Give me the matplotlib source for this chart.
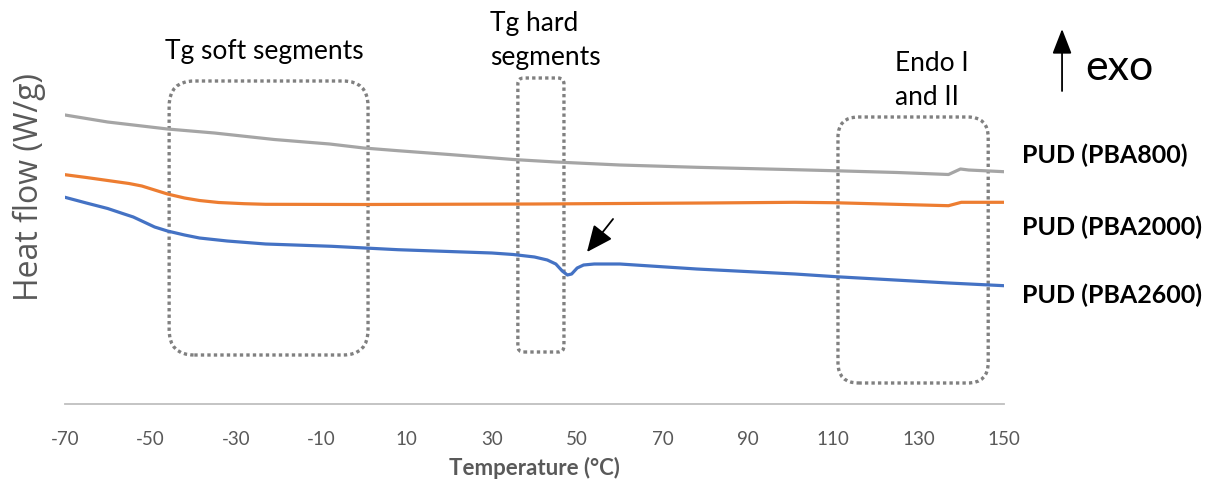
import matplotlib
matplotlib.use("Agg")
import matplotlib.pyplot as plt
from matplotlib.patches import FancyBboxPatch

plt.rcParams['font.family'] = ['Lato', 'DejaVu Sans']
plt.rcParams['axes.unicode_minus'] = False

# DSC curves (heat flow, arbitrary units)
t_800 = [-70, -60, -46, -35, -21, -8, 0, 8, 20, 35, 45, 60, 78, 101, 110, 125, 137, 139.8, 141.7, 150]
hf_800 = [2.89, 2.82, 2.75, 2.71, 2.645, 2.60, 2.56, 2.533, 2.495, 2.445, 2.42, 2.39, 2.367, 2.343,
          2.333, 2.315, 2.295, 2.35, 2.34, 2.323]

t_2000 = [-70, -65, -60, -55, -52, -49, -46, -42, -38.5, -34, -28, -23, 0, 40, 80, 101, 110, 137, 140, 150]
hf_2000 = [2.293, 2.265, 2.235, 2.205, 2.18, 2.14, 2.10, 2.06, 2.035, 2.015, 2.003, 1.997, 1.995, 2.0,
           2.01, 2.017, 2.013, 1.983, 2.017, 2.017]

t_2600 = [-70, -65, -60, -56.5, -54, -52, -49, -46, -42, -38.5, -32, -23, -7.5, 8, 20, 30, 35, 40, 43,
          45, 46.5, 47.7, 48.7, 50, 51.5, 54, 60, 78, 101, 110.6, 137, 150]
hf_2600 = [2.067, 2.01, 1.955, 1.905, 1.87, 1.83, 1.77, 1.73, 1.69, 1.66, 1.63, 1.60, 1.577, 1.543,
           1.525, 1.51, 1.495, 1.47, 1.44, 1.40, 1.33, 1.29, 1.30, 1.36, 1.39, 1.40, 1.40, 1.35, 1.30,
           1.273, 1.21, 1.183]

series_names = ['PUD (PBA800)', 'PUD (PBA2000)', 'PUD (PBA2600)']
xticks = list(range(-70, 151, 20))

# dotted boxes: (x0, x1, y0, y1, corner radius in x units)
boxes = [(-45.6, 1.0, 0.49, 3.23, 5.9),
         (36.1, 46.9, 0.52, 3.26, 1.4),
         (111.1, 146.3, 0.21, 2.87, 4.8)]

fig = plt.figure(figsize=(12.19, 4.89), dpi=100)
ax = fig.add_axes([65 / 1219, 84 / 489, 939 / 1219, 345 / 489])

ax.plot(t_800, hf_800, color='#A5A5A5', lw=2.3, solid_joinstyle='round')
ax.plot(t_2000, hf_2000, color='#ED7D31', lw=2.3, solid_joinstyle='round')
ax.plot(t_2600, hf_2600, color='#4472C4', lw=2.3, solid_joinstyle='round')

ax.set_xlim(-70, 150)
ax.set_ylim(0, 3.45)
ax.set_xticks(xticks)
ax.set_yticks([])
ax.tick_params(axis='x', length=0, pad=19, labelsize=13.5, labelcolor='#595959')
for s in ['top', 'right', 'left']:
    ax.spines[s].set_visible(False)
ax.spines['bottom'].set_color('#BFBFBF')
ax.spines['bottom'].set_linewidth(1.3)
ax.set_xlabel('Temperature (°C)', fontsize=16, fontweight='bold', color='#595959', labelpad=6)
fig.text(29 / 1219, 1 - 187 / 489, 'Heat flow (W/g)', rotation=90, fontsize=23,
         color='#595959', ha='center', va='center', family=['Open Sans', 'DejaVu Sans'])

aspect = 4.268 / 100
for x0, x1, y0, y1, r in boxes:
    p = FancyBboxPatch((x0, y0), x1 - x0, y1 - y0,
                       boxstyle=f"round,pad=0,rounding_size={r}", mutation_aspect=aspect,
                       fill=False, ec='#808080', lw=2.4, ls=(0, (1, 0.95)), clip_on=False)
    ax.add_patch(p)

ax.text(-23.4, 3.53, 'Tg soft segments', fontsize=19, ha='center', va='center')
ax.text(29.6, 3.65, 'Tg hard\nsegments', fontsize=19, ha='left', va='center', linespacing=1.45)
ax.text(124.5, 3.245, 'Endo I\nand II', fontsize=19, ha='left', va='center', linespacing=1.45)

ax.annotate('', xy=(163.6, 3.75), xytext=(163.6, 3.13), annotation_clip=False,
            arrowprops=dict(arrowstyle='-|>,head_length=0.9,head_width=0.35', color='black',
                            lw=1.3, mutation_scale=17, shrinkA=0, shrinkB=0))
ax.text(169, 3.37, 'exo', fontsize=31, ha='left', va='center')

ax.annotate('', xy=(52.3, 1.52), xytext=(58.4, 1.85),
            arrowprops=dict(arrowstyle='-|>,head_length=0.9,head_width=0.4', color='black',
                            lw=1.3, mutation_scale=18, shrinkA=0, shrinkB=0))

for name, y in zip(series_names, [2.50, 1.78, 1.10]):
    ax.text(154.2, y, name, fontsize=18, fontweight='bold', ha='left', va='center', clip_on=False)

fig.savefig('out.png', dpi=100)
